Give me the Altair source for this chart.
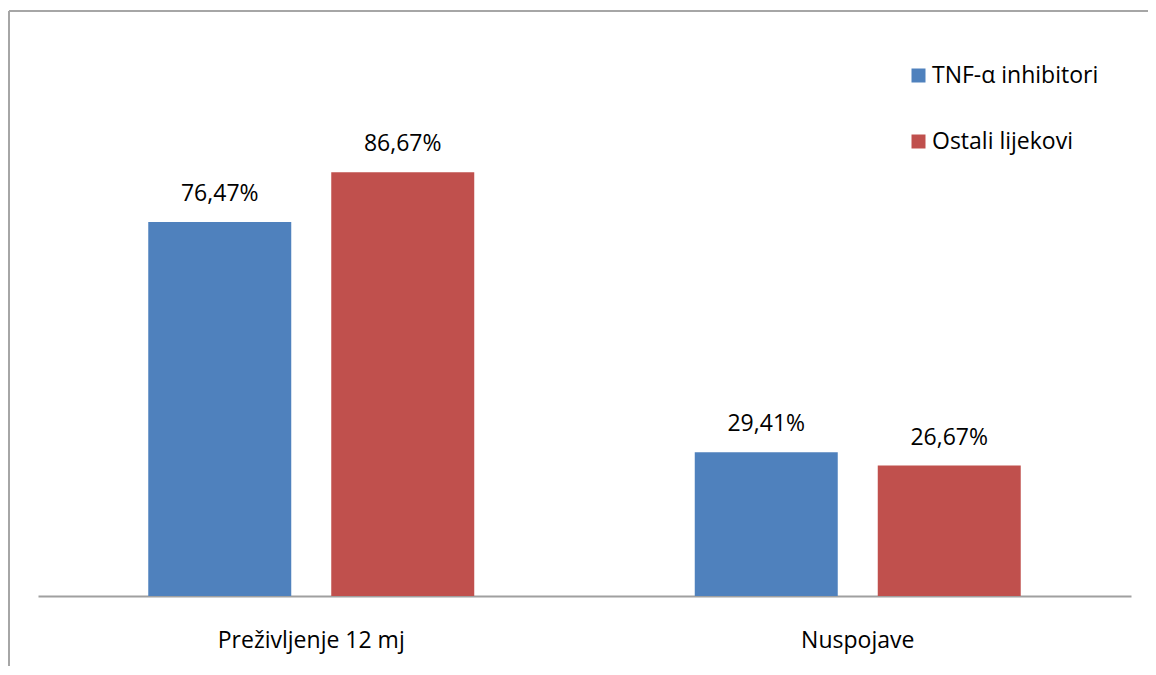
import altair as alt
import pandas as pd

categories = ["Preživljenje 12 mj", "Nuspojave"]
series = ["TNF-α inhibitori", "Ostali lijekovi"]
tnf_values = [76.47, 29.41]
ostali_values = [86.67, 26.67]
colors = ["#4F81BD", "#C0504D"]

rows = []
for s, vals in zip(series, [tnf_values, ostali_values]):
    for c, v in zip(categories, vals):
        rows.append({"kategorija": c, "serija": s, "vrijednost": v,
                     "oznaka": f"{v:.2f}".replace(".", ",") + "%"})
df = pd.DataFrame(rows)

FONT = "Open Sans"
W, H = 1093, 489

x_enc = alt.X("kategorija:N", sort=categories,
              scale=alt.Scale(paddingInner=0, paddingOuter=0),
              axis=alt.Axis(title=None, labelAngle=0, ticks=False, grid=False,
                            domainColor="#a0a0a0", domainWidth=2,
                            labelFont=FONT, labelFontSize=23, labelColor="#000000",
                            labelPadding=33, labelLimit=0))
xo_enc = alt.XOffset("serija:N", sort=series,
                     scale=alt.Scale(paddingInner=0.2186, paddingOuter=0.6025))
y_enc = alt.Y("vrijednost:Q", scale=alt.Scale(domain=[0, 100]), axis=None)

bars = alt.Chart(df).mark_bar().encode(
    x=x_enc, xOffset=xo_enc, y=y_enc,
    color=alt.Color("serija:N", sort=series,
                    scale=alt.Scale(domain=series, range=colors),
                    legend=alt.Legend(title=None, orient="none", legendX=869, legendY=-43,
                                      symbolType="square", symbolSize=196,
                                      symbolStrokeWidth=0, labelFont=FONT,
                                      labelFontSize=23, labelColor="#000000",
                                      labelOffset=2, rowPadding=42, labelLimit=0)),
)

labels = alt.Chart(df).mark_text(baseline="alphabetic", dy=-21, font=FONT,
                                 fontSize=23, color="#000000").encode(
    x=alt.X("kategorija:N", sort=categories), xOffset=alt.XOffset("serija:N", sort=series),
    y="vrijednost:Q", text="oznaka:N")

border_top = alt.Chart(df).mark_rule(color="#a6a6a6", strokeWidth=2).encode(
    x=alt.value(-29), x2=alt.value(1200), y=alt.value(-96))
border_left = alt.Chart(df).mark_rule(color="#a6a6a6", strokeWidth=2).encode(
    x=alt.value(-29), y=alt.value(-96), y2=alt.value(700))

chart = alt.layer(bars, labels, border_top, border_left).properties(
    width=W, height=H,
    padding={"left": 30, "top": 99, "right": 17, "bottom": 70},
    autosize=alt.AutoSizeParams(type="none"),
).configure_view(stroke=None)

chart.save("out.html", embed_options={"renderer": "svg", "actions": False})
